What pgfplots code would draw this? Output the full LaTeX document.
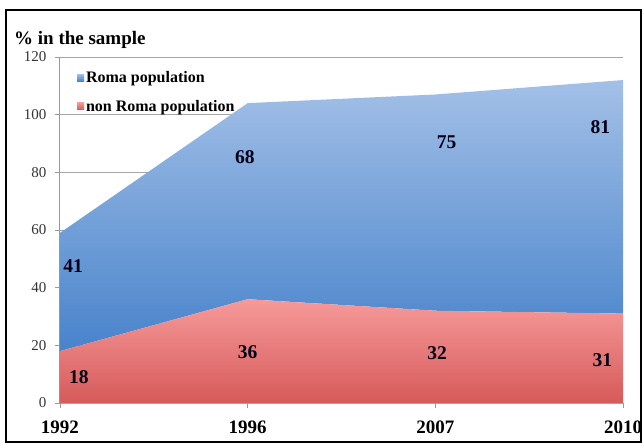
\documentclass[border=0pt]{standalone}
\usepackage{pgfplots}
\pgfplotsset{compat=1.18}
\usepackage{fontspec}
\setmainfont{Liberation Serif}
\definecolor{romatop}{HTML}{A3C0E7}
\definecolor{romabot}{HTML}{4883CB}
\definecolor{nontop}{HTML}{F69A9A}
\definecolor{nonbot}{HTML}{D65A59}
\definecolor{romaleg}{HTML}{6F9EDB}
\definecolor{nonleg}{HTML}{E47A7A}
\begin{document}
\begin{tikzpicture}
\begin{axis}[
  name=ax,
  at={(0,0)}, anchor=south west,
  scale only axis, width=563pt, height=346pt,
  xmin=0, xmax=3, ymin=0, ymax=120,
  stack plots=y,
  xtick={0,1,2,3}, xticklabels={1992,1996,2007,2010},
  ytick={0,20,...,120},
  ymajorgrids, grid style={draw=black!35, line width=0.8pt},
  axis x line*=bottom, axis y line*=left,
  axis line style={draw=black!40, line width=1pt},
  tick align=outside,
  major tick length=5pt,
  tick style={draw=black!40, line width=0.8pt},
  /pgf/number format/assume math mode=true,
  x tick label style={font=\fontsize{19}{19}\selectfont\bfseries, yshift=-9pt},
  y tick label style={font=\fontsize{15}{15}\selectfont, text=black!80, xshift=-5pt},
  legend style={at={(axis description cs:0.030,0.965)}, anchor=north west,
    draw=none, fill=none, inner sep=0pt,
    font=\fontsize{16}{16}\selectfont\bfseries,
    row sep=12pt},
  legend cell align=left,
  reverse legend,
]
\addplot[draw=none, top color=nontop, bottom color=nonbot,
  legend image code/.code={\fill[nonleg] (0pt,-3.5pt) rectangle (7pt,3.5pt);}]
  coordinates {(0,18) (1,36) (2,32) (3,31)} \closedcycle;
\addplot[draw=none, top color=romatop, bottom color=romabot,
  legend image code/.code={\fill[romaleg] (0pt,-3.5pt) rectangle (7pt,3.5pt);}]
  coordinates {(0,41) (1,68) (2,75) (3,81)} \closedcycle;
\legend{non Roma population, Roma population}
\coordinate (a41) at (axis cs:0.07,47.5);
\coordinate (a68) at (axis cs:0.985,85.3);
\coordinate (a75) at (axis cs:2.06,90.5);
\coordinate (a81) at (axis cs:2.88,95.7);
\coordinate (a18) at (axis cs:0.10,9);
\coordinate (a36) at (axis cs:1.0,17.7);
\coordinate (a32) at (axis cs:2.01,17.3);
\coordinate (a31) at (axis cs:2.89,14.9);
\end{axis}
\foreach \v in {41,68,75,81,18,36,32,31}
  \node[font=\fontsize{19.5}{19.5}\selectfont\bfseries, text=black!90!blue] at (a\v) {\v};
\node[anchor=west, font=\fontsize{19}{19}\selectfont\bfseries, inner sep=0pt]
  at ([shift={(-46pt,17pt)}]ax.north west) {\% in the sample};
\draw[line width=1.3pt] ([shift={(-54pt,-39pt)}]ax.south west) rectangle ([shift={(18pt,47pt)}]ax.north east);
\pgfresetboundingbox
\path[use as bounding box] ([shift={(-60pt,-40pt)}]ax.south west) rectangle ([shift={(21pt,57pt)}]ax.north east);
\end{tikzpicture}
\end{document}
